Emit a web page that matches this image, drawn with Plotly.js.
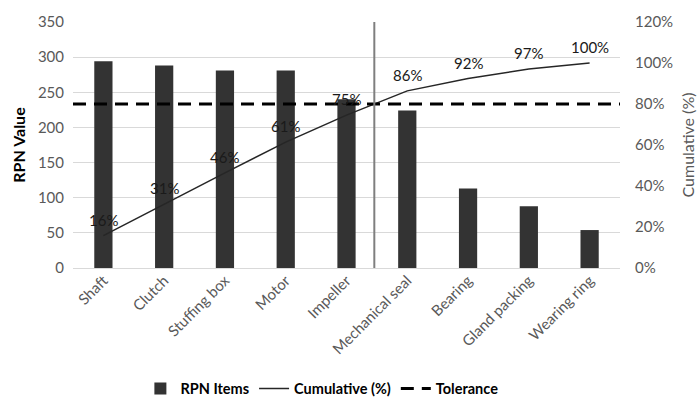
<!DOCTYPE html>
<html>
<head>
<meta charset="utf-8">
<script src="https://cdn.plot.ly/plotly-3.0.1.min.js"></script>
<style>html,body{margin:0;padding:0;background:#fff;}#chart{width:697px;height:400px;}</style>
</head>
<body>
<div id="chart"></div>
<script>
const categories = ["Shaft","Clutch","Stuffing box","Motor","Impeller","Mechanical seal","Bearing","Gland packing","Wearing ring"];
const rpnValues = [294, 288, 281, 281, 240, 224, 113, 88, 54];
const cumulativePct = [15.8, 31.3, 46.4, 61.4, 74.6, 86.4, 92.4, 97.1, 100];
const cumulativeLabels = ["16%","31%","46%","61%","75%","86%","92%","97%","100%"];
const tolerancePct = 80;
const leftTicks = [0,50,100,150,200,250,300,350];
const rightTicks = [0,20,40,60,80,100,120];
const rightTickLabels = ["0%","20%","40%","60%","80%","100%","120%"];

// crossing of cumulative line with tolerance (index-space position)
let crossX = null;
for (let i = 1; i < cumulativePct.length; i++) {
  if (cumulativePct[i-1] < tolerancePct && cumulativePct[i] >= tolerancePct) {
    crossX = (i-1) + (tolerancePct - cumulativePct[i-1]) / (cumulativePct[i] - cumulativePct[i-1]);
    break;
  }
}

const FONT = "Lato, 'Open Sans', sans-serif";
const GRAY = "#595959";

const traces = [
  {
    type: "bar", name: "RPN Items", x: categories, y: rpnValues,
    marker: {color: "#333333"}, yaxis: "y", xaxis: "x"
  },
  {
    type: "scatter", mode: "lines", name: "Cumulative (%)",
    x: categories, y: cumulativePct,
    line: {color: "#262626", width: 1.5}, yaxis: "y2", xaxis: "x"
  },
  {
    type: "scatter", mode: "lines", name: "Tolerance",
    x: [0, 1], y: [tolerancePct, tolerancePct],
    line: {color: "#000000", width: 3, dash: "13px,8px"}, yaxis: "y2", xaxis: "x2"
  }
];

const annotations = categories.map((c, i) => ({
  x: c, y: cumulativePct[i], xref: "x", yref: "y2",
  text: cumulativeLabels[i], showarrow: false, yshift: 16,
  font: {family: FONT, size: 15, color: "#1a1a1a"}
}));

const layout = {
  width: 697, height: 400,
  margin: {l: 73, r: 77, t: 22, b: 132, autoexpand: false},
  paper_bgcolor: "#ffffff", plot_bgcolor: "#ffffff",
  font: {family: FONT, size: 15, color: GRAY},
  bargap: 0.7,
  showlegend: true,
  legend: {
    orientation: "h", x: 0.455, xanchor: "center", y: -0.49, yanchor: "middle",
    font: {family: FONT, size: 14.5, color: "#000000", weight: "bold"},
    itemwidth: 30, traceorder: "normal", tracegroupgap: 0
  },
  xaxis: {
    type: "category", tickangle: -45, showgrid: false, zeroline: false, automargin: false,
    showline: false, ticks: "", tickfont: {family: FONT, size: 15, color: GRAY},
    range: [-0.5, categories.length - 0.5]
  },
  xaxis2: {overlaying: "x", range: [0, 1], visible: false, fixedrange: true},
  yaxis: {
    range: [0, 350], tickvals: leftTicks, showgrid: true, gridcolor: "#d9d9d9", gridwidth: 1,
    zeroline: true, zerolinecolor: "#d9d9d9", showline: false, ticks: "", automargin: false,
    ticklabelstandoff: 8,
    tickfont: {family: FONT, size: 15, color: GRAY},
    title: {text: "RPN Value", font: {family: FONT, size: 16, color: "#000000", weight: "bold"}, standoff: 8}
  },
  yaxis2: {
    overlaying: "y", side: "right", range: [0, 120], tickvals: rightTicks, ticktext: rightTickLabels,
    showgrid: false, zeroline: false, showline: false, ticks: "", automargin: false,
    ticklabelstandoff: 14,
    tickfont: {family: FONT, size: 15, color: GRAY},
    title: {text: "Cumulative (%)", font: {family: FONT, size: 16, color: GRAY}, standoff: 10}
  },
  annotations: annotations,
  shapes: crossX === null ? [] : [{
    type: "line", xref: "x", yref: "paper", x0: crossX, x1: crossX, y0: 0, y1: 1,
    line: {color: "#7f7f7f", width: 2}
  }]
};

Plotly.newPlot("chart", traces, layout, {displayModeBar: false, staticPlot: true});
</script>
</body>
</html>
